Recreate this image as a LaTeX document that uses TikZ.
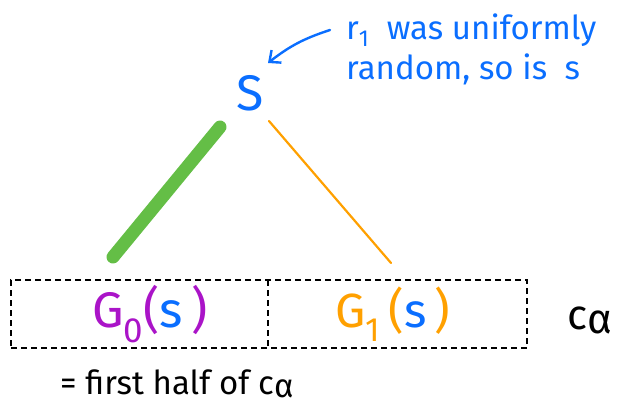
\documentclass[tikz,border=0pt]{standalone}
\usepackage{fontspec}
\setmainfont{Fira Sans}
\usetikzlibrary{arrows.meta}
\definecolor{pblue}{RGB}{10,110,255}
\definecolor{ppurple}{RGB}{170,20,200}
\definecolor{porange}{RGB}{255,160,0}
\definecolor{pgreen}{RGB}{100,190,70}
\tikzset{
  dashline/.style={draw=black, line width=2.6pt, dash pattern=on 6pt off 4pt},
  note/.style={text=pblue, font=\fontsize{33}{40}\selectfont, align=left, anchor=north west, inner sep=0pt},
  hand/.style={text=black, inner sep=0pt}
}
\begin{document}
\begin{tikzpicture}[x=1pt,y=-1pt]
\useasboundingbox (0,0) rectangle (623,410);
\node[dashline, minimum width=516pt, minimum height=68pt, inner sep=0pt] (whole) at (269,314) {};
\coordinate (divtop) at (268,280);
\coordinate (divbot) at (268,348);
\draw[dashline] (divtop) -- (divbot);
\node[text=pblue, font=\fontsize{50}{50}\selectfont, inner sep=0pt] (S) at (250,93) {S};
\node[font=\fontsize{50}{50}\selectfont, inner sep=0pt] (G0) at (150,314) {\textcolor{ppurple}{G\textsubscript{0}(}\textcolor{pblue}{s}\textcolor{ppurple}{\,)}};
\node[font=\fontsize{48}{48}\selectfont, inner sep=0pt] (G1) at (393,314) {\textcolor{porange}{G\textsubscript{1}\,(}\textcolor{pblue}{s}\textcolor{porange}{\,)}};
\node[note] (note) at (346,14) {r\textsubscript{1}\ \ was uniformly\\random, so is \ s};
\node[hand, font=\fontsize{42}{42}\selectfont] (calpha) at (590,320) {c\raisebox{-4pt}{α}};
\node[hand, font=\fontsize{33}{33}\selectfont, anchor=west] (first) at (60,384) {= first half of c\raisebox{-3pt}{α}};
\coordinate (gtop) at (220,127);
\coordinate (gbot) at (113,257);
\coordinate (otop) at (269,121);
\coordinate (obot) at (391,263);
\coordinate (atail) at (330,30);
\coordinate (ahead) at (268,63);
\draw[pgreen, line width=13pt, line cap=round] (gtop) -- (gbot);
\draw[porange, line width=2.2pt, line cap=round] (otop) -- (obot);
\draw[pblue, line width=2.4pt, line cap=round, -{Straight Barb[length=9pt,width=16pt,line width=2.4pt]}] (atail) to[bend right=10] (ahead);
\end{tikzpicture}
\end{document}
